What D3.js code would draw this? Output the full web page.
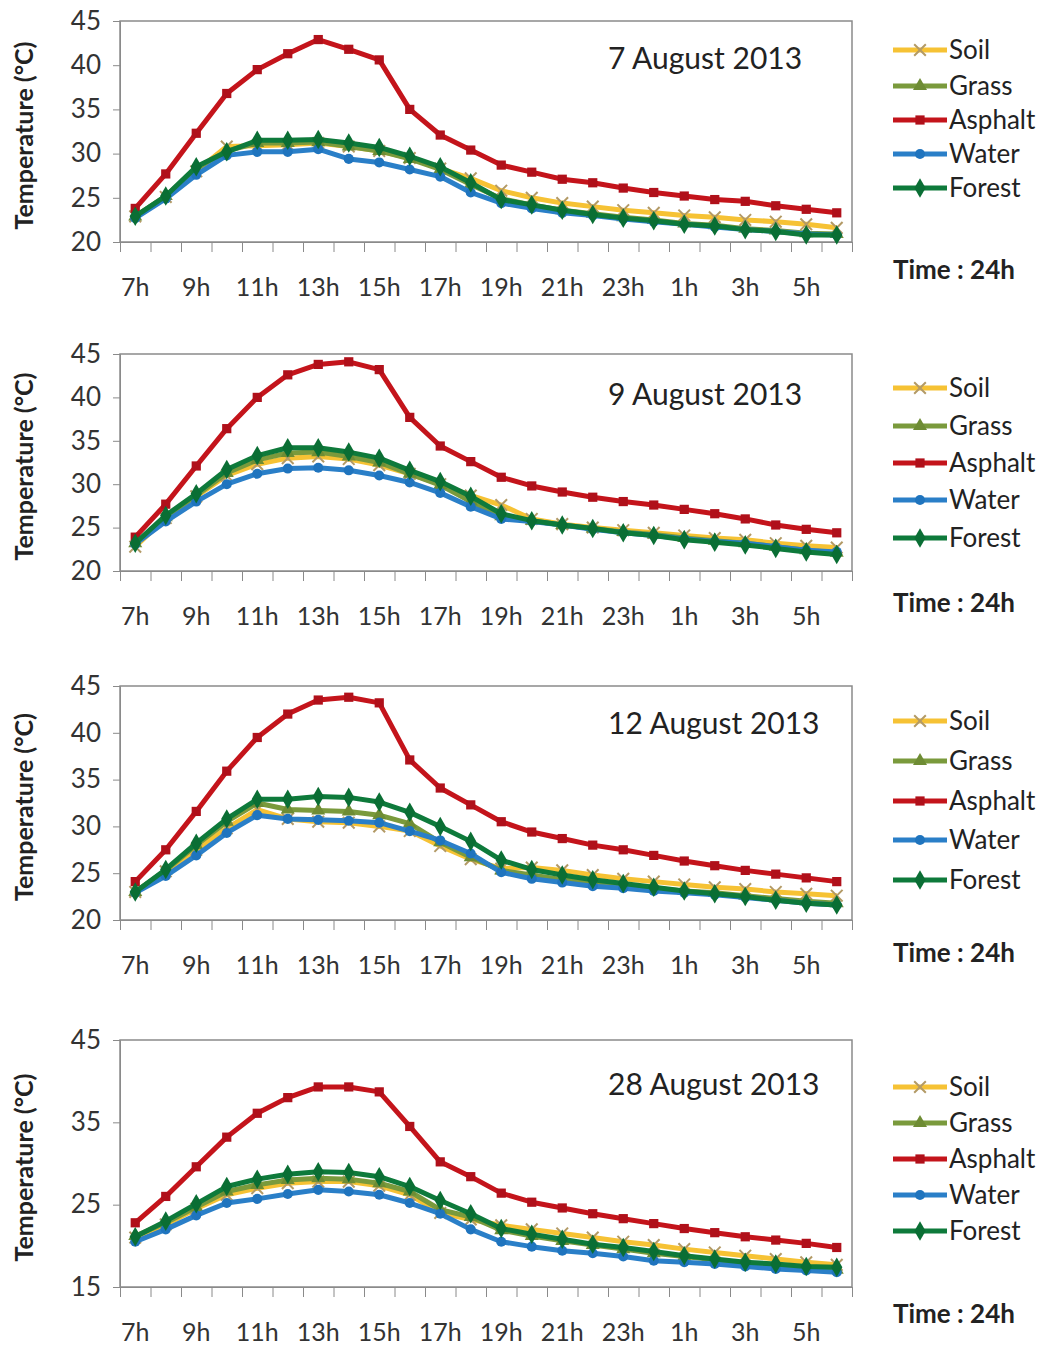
<!DOCTYPE html>
<html>
  <head>
    <meta charset="utf-8">
    <title>Surface temperature by land cover, August 2013</title>
    <script src="https://d3js.org/d3.v7.min.js"></script>
    <style>
      body { margin: 0; background: #fff; }
      #chart { display: block; }
      text { font-family: Lato, "Open Sans", sans-serif; fill: #222; }
      .axis path, .axis line { stroke: #8a8a8a; }
      .axis text { fill: #333; }
      .xlab text { font-size: 25px; }
      .ylab text { font-size: 26px; }
    </style>
  </head>
  <body>
    <svg id="chart" width="1048" height="1346"></svg>
    <script>
      // data: hourly temperatures (°C), 7h to 6h next day
      const hours = ["7h","8h","9h","10h","11h","12h","13h","14h","15h","16h","17h","18h",
                     "19h","20h","21h","22h","23h","0h","1h","2h","3h","4h","5h","6h"];
      const tickLabels = ["7h","9h","11h","13h","15h","17h","19h","21h","23h","1h","3h","5h"];
      const seriesNames = ["Soil", "Grass", "Asphalt", "Water", "Forest"];
      const dates = ["7 August 2013", "9 August 2013", "12 August 2013", "28 August 2013"];

      const soil07    = [22.9,25.1,28.0,30.8,30.9,31.0,31.2,30.8,30.3,29.5,28.3,27.2,25.8,25.0,24.4,24.0,23.6,23.3,23.0,22.8,22.5,22.3,22.0,21.6];
      const grass07   = [22.9,25.2,28.3,30.3,31.2,31.2,31.3,30.8,30.3,29.4,28.2,26.5,24.9,24.2,23.6,23.2,22.8,22.5,22.1,21.9,21.5,21.3,21.0,20.9];
      const asphalt07 = [23.8,27.7,32.3,36.8,39.5,41.3,42.9,41.8,40.6,35.0,32.1,30.4,28.7,27.9,27.1,26.7,26.1,25.6,25.2,24.8,24.6,24.1,23.7,23.3];
      const water07   = [22.7,24.9,27.6,29.8,30.2,30.2,30.5,29.4,29.0,28.2,27.4,25.6,24.4,23.8,23.3,23.0,22.6,22.3,22.0,21.7,21.4,21.2,20.9,20.8];
      const forest07  = [22.9,25.2,28.5,30.2,31.5,31.5,31.6,31.2,30.7,29.7,28.5,26.7,24.8,24.2,23.6,23.1,22.7,22.4,22.0,21.8,21.4,21.2,20.8,20.8];

      const soil09    = [22.8,26.1,28.6,31.0,32.3,33.0,33.2,32.9,32.2,31.2,30.0,28.7,27.6,26.0,25.4,25.0,24.7,24.4,24.1,23.8,23.6,23.2,22.9,22.7];
      const grass09   = [23.2,26.2,28.7,31.3,32.8,33.6,33.7,33.2,32.5,31.2,29.9,28.0,26.3,25.8,25.3,24.9,24.5,24.2,23.8,23.5,23.2,22.8,22.4,22.1];
      const asphalt09 = [23.9,27.7,32.1,36.4,40.0,42.6,43.8,44.1,43.2,37.7,34.4,32.6,30.8,29.8,29.1,28.5,28.0,27.6,27.1,26.6,26.0,25.3,24.8,24.4];
      const water09   = [23.1,25.7,28.0,30.0,31.2,31.8,31.9,31.6,31.0,30.2,29.0,27.4,26.0,25.7,25.3,24.8,24.4,24.1,23.7,23.4,23.2,22.8,22.4,22.2];
      const forest09  = [23.2,26.4,28.9,31.7,33.3,34.2,34.2,33.7,33.0,31.6,30.3,28.6,26.6,25.8,25.3,24.9,24.4,24.1,23.6,23.3,23.0,22.6,22.2,21.9];

      const soil12    = [23.0,25.2,27.5,29.8,31.8,30.8,30.5,30.4,30.0,29.5,27.9,26.5,25.5,25.6,25.3,24.8,24.4,24.1,23.8,23.5,23.3,23.0,22.8,22.6];
      const grass12   = [23.0,25.3,28.0,30.5,32.5,31.8,31.7,31.6,31.2,30.3,28.3,26.7,25.3,24.8,24.3,24.0,23.7,23.4,23.1,22.9,22.6,22.3,22.0,21.8];
      const asphalt12 = [24.1,27.5,31.6,35.9,39.5,42.0,43.5,43.8,43.2,37.1,34.1,32.3,30.5,29.4,28.7,28.0,27.5,26.9,26.3,25.8,25.3,24.9,24.5,24.1];
      const water12   = [22.9,24.7,26.9,29.3,31.2,30.8,30.7,30.6,30.4,29.5,28.5,27.1,25.1,24.4,24.0,23.6,23.4,23.1,22.9,22.7,22.4,22.1,21.8,21.6];
      const forest12  = [23.0,25.4,28.2,30.8,32.9,32.9,33.2,33.1,32.6,31.5,30.0,28.4,26.4,25.4,24.8,24.3,23.9,23.5,23.1,22.8,22.5,22.1,21.8,21.6];

      const soil28    = [21.0,22.6,24.5,26.2,27.0,27.6,27.8,27.8,27.3,26.2,24.0,23.2,22.5,22.0,21.5,21.0,20.5,20.1,19.6,19.2,18.8,18.4,18.0,17.7];
      const grass28   = [21.2,22.8,24.7,26.6,27.4,28.0,28.2,28.1,27.6,26.6,24.4,23.5,21.9,21.2,20.6,20.1,19.6,19.1,18.7,18.3,17.9,17.6,17.3,17.1];
      const asphalt28 = [22.8,26.0,29.6,33.2,36.1,38.0,39.3,39.3,38.7,34.5,30.2,28.4,26.4,25.3,24.6,23.9,23.3,22.7,22.1,21.6,21.1,20.7,20.3,19.8];
      const water28   = [20.5,22.0,23.7,25.2,25.7,26.3,26.8,26.6,26.2,25.2,23.9,22.0,20.5,19.9,19.4,19.1,18.7,18.2,18.0,17.8,17.5,17.2,17.0,16.8];
      const forest28  = [21.1,23.0,25.1,27.2,28.1,28.7,29.0,28.9,28.4,27.2,25.5,23.9,22.1,21.4,20.8,20.2,19.8,19.3,18.8,18.4,18.0,17.8,17.5,17.4];

      const yTicks07 = [20, 25, 30, 35, 40, 45];
      const yTicks28 = [15, 25, 35, 45];

      // panel layout
      const panels = [
        { date: dates[0], data: [soil07, grass07, asphalt07, water07, forest07], domain: [20, 45], ticks: yTicks07,
          top: 21, bottom: 242, titleY: 58, legendY: [50, 86, 120, 154, 188], timeY: 270 },
        { date: dates[1], data: [soil09, grass09, asphalt09, water09, forest09], domain: [20, 45], ticks: yTicks07,
          top: 354, bottom: 571, titleY: 394, legendY: [388, 426, 463, 500, 538], timeY: 603 },
        { date: dates[2], data: [soil12, grass12, asphalt12, water12, forest12], domain: [20, 45], ticks: yTicks07,
          top: 686, bottom: 920, titleY: 723, legendY: [721, 761, 801, 840, 880], timeY: 953 },
        { date: dates[3], data: [soil28, grass28, asphalt28, water28, forest28], domain: [15, 45], ticks: yTicks28,
          top: 1040, bottom: 1287, titleY: 1084, legendY: [1087, 1123, 1159, 1195, 1231], timeY: 1314 }
      ];

      const styles = {
        Soil:    { line: "#F6C234", marker: "#B39A66", symbol: d3.symbolX, size: 90, stroke: true },
        Grass:   { line: "#7A9A3C", marker: "#6E8C34", symbol: d3.symbolTriangle, size: 85 },
        Asphalt: { line: "#C4141B", marker: "#B0101A", symbol: d3.symbolSquare, size: 85 },
        Water:   { line: "#2A7FC8", marker: "#1F74BE", symbol: d3.symbolCircle, size: 80 },
        Forest:  { line: "#0E7A3B", marker: "#0A6E34", symbol: d3.symbolDiamond, size: 110 }
      };

      const left = 120, right = 852;
      const chart = d3.select("#chart");

      const x = d3.scaleBand().domain(hours).range([left, right]);
      const xEdge = d3.scaleLinear().domain([0, hours.length]).range([left, right]);
      const cx = function(h) { return x(h) + x.bandwidth() / 2; };

      function drawMarker(g, name, px, py) {
        const s = styles[name];
        const m = g.append("path")
          .attr("d", d3.symbol(s.symbol, s.size)())
          .attr("transform", "translate(" + px + "," + py + ")");
        if (s.stroke) {
          m.attr("fill", "none").attr("stroke", s.marker).attr("stroke-width", 2);
        } else {
          m.attr("fill", s.marker);
        }
      }

      panels.forEach(function(p) {
        const g = chart.append("g");
        const y = d3.scaleLinear().domain(p.domain).range([p.bottom, p.top]);

        // plot area frame
        g.append("rect")
          .attr("x", left).attr("y", p.top)
          .attr("width", right - left).attr("height", p.bottom - p.top)
          .attr("fill", "none").attr("stroke", "#8a8a8a").attr("stroke-width", 1.5);

        // y axis
        g.append("g")
          .attr("class", "axis ylab")
          .attr("transform", "translate(" + left + ",0)")
          .call(d3.axisLeft(y).tickValues(p.ticks).tickSize(7).tickPadding(12).tickSizeOuter(0));

        // x axis: tick marks between categories
        g.append("g")
          .attr("class", "axis")
          .attr("transform", "translate(0," + p.bottom + ")")
          .call(d3.axisBottom(xEdge).tickValues(d3.range(hours.length + 1)).tickSize(10).tickFormat("").tickSizeOuter(0));
        // x axis labels at category centres
        const xl = g.append("g")
          .attr("class", "axis xlab")
          .attr("transform", "translate(0," + p.bottom + ")")
          .call(d3.axisBottom(x).tickValues(tickLabels).tickSize(0).tickPadding(36));
        xl.select(".domain").remove();

        // y axis title
        g.append("text")
          .attr("transform", "translate(33," + ((p.top + p.bottom) / 2 + 4) + ") rotate(-90)")
          .attr("text-anchor", "middle")
          .style("font-size", "25px")
          .style("font-weight", "bold")
          .text("Temperature (°C)");

        // date label
        g.append("text")
          .attr("x", 608).attr("y", p.titleY)
          .attr("dy", "0.35em")
          .style("font-size", "30px")
          .text(p.date);

        // series
        const line = d3.line()
          .x(function(d, i) { return cx(hours[i]); })
          .y(function(d) { return y(d); });
        seriesNames.forEach(function(name, k) {
          const s = styles[name];
          const sg = g.append("g");
          sg.append("path")
            .datum(p.data[k])
            .attr("fill", "none")
            .attr("stroke", s.line)
            .attr("stroke-width", 5)
            .attr("stroke-linejoin", "round")
            .attr("d", line);
          p.data[k].forEach(function(v, i) {
            drawMarker(sg, name, cx(hours[i]), y(v));
          });
        });

        // legend
        seriesNames.forEach(function(name, k) {
          const s = styles[name];
          const ly = p.legendY[k];
          g.append("line")
            .attr("x1", 893).attr("x2", 947)
            .attr("y1", ly).attr("y2", ly)
            .attr("stroke", s.line).attr("stroke-width", 5);
          drawMarker(g, name, 920, ly);
          g.append("text")
            .attr("x", 949).attr("y", ly)
            .attr("dy", "0.35em")
            .style("font-size", "26px")
            .text(name);
        });

        g.append("text")
          .attr("x", 893).attr("y", p.timeY)
          .attr("dy", "0.35em")
          .style("font-size", "26px")
          .style("font-weight", "bold")
          .text("Time : 24h");
      });
    </script>
  </body>
</html>
